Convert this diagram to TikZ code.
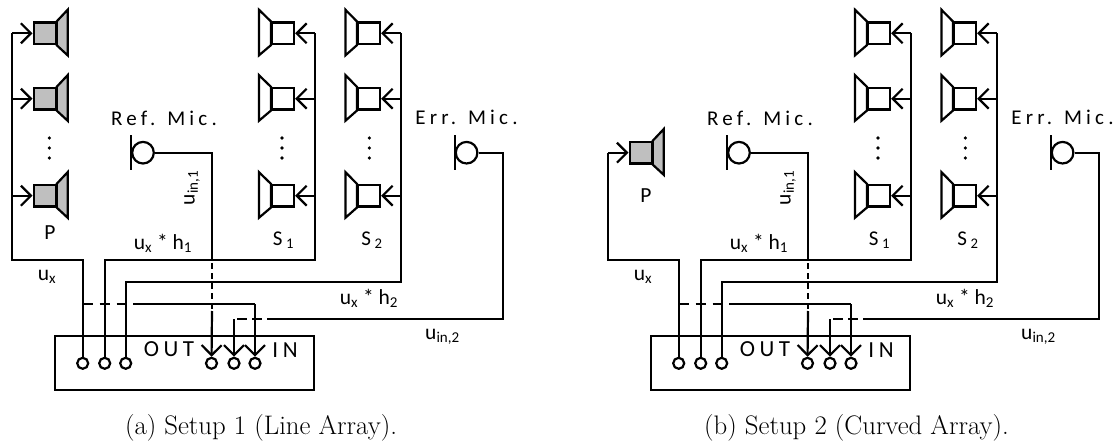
\documentclass[tikz,border=0pt]{standalone}
\usepackage{fontspec}
\setmainfont{Latin Modern Roman}
\newfontfamily\labelfont{Carlito}
\newfontfamily\spacedfont[LetterSpace=20]{Carlito}
\usetikzlibrary{arrows.meta, positioning}

\definecolor{spkgray}{gray}{0.75}
\tikzset{
    wire/.style={line width=2.2pt, line join=miter},
    sig/.style={wire, -{Straight Barb[length=10pt, width=20pt, line width=2.2pt]}},
    spkbox/.style={draw, line width=2.2pt, rectangle, inner sep=0pt, minimum width=22pt, minimum height=21.6pt},
    port/.style={draw, line width=2.2pt, circle, inner sep=0pt, minimum size=11pt},
    mic/.style={draw, line width=2.2pt, circle, inner sep=0pt, minimum size=21.6pt},
    lab/.style={font=\fontsize{21.5}{22}\labelfont, inner sep=0pt},
    spaced/.style={font=\fontsize{21}{21}\spacedfont, inner sep=0pt},
    iolab/.style={font=\fontsize{23}{23}\spacedfont, inner sep=0pt},
    capt/.style={font=\fontsize{26.8}{28}\selectfont, inner sep=0pt},
    dotnode/.style={fill, circle, inner sep=0pt, minimum size=3.6pt}
}

\begin{document}
\begin{tikzpicture}[x=1pt, y=-1pt]
    \useasboundingbox (0,0) rectangle (1114,441);

    \foreach \pre/\dx/\ylist/\ply in {
        a/0/{33.3,98.7,195.7}/233,
        b/596/{152.7}/196} {
    \begin{scope}[xshift=\dx pt, name prefix=\pre-]
        % device box and ports
        \node[draw, line width=2.2pt, inner sep=0pt, minimum width=259pt, minimum height=54pt] (dev) at (184.5,363) {};
        \foreach \n/\x in {1/82.7, 2/104.7, 3/125.7}
            \node[port] (o\n) at (\x,363.3) {};
        \foreach \n/\x in {1/211.5, 2/234, 3/255}
            \node[port] (i\n) at (\x,363.3) {};
        \node[iolab] (outlab) at (169,349) {OUT};
        \node[iolab] (inlab) at (285,350) {IN};

        % primary speakers
        \coordinate (ubend) at (82.7,260.3);
        \foreach \y [count=\i] in \ylist {
            \node[spkbox, fill=spkgray] (P\i) at (44.6,\y) {};
            \draw[wire, fill=spkgray] (P\i.north east) -- ++(11,-11.7) -- ++(0,45.7) -- (P\i.south east) -- cycle;
            \coordinate (pbus\i) at (12,\y);
            \draw[wire] (pbus\i) |- (ubend) -- (o1);
            \draw[sig] (pbus\i) -- (P\i);
        }
        \node[lab] (plab) at (50,\ply) {P};

        % secondary speakers
        \coordinate (bend1) at (104.7,260.3);
        \coordinate (bend2) at (125.7,282);
        \foreach \y [count=\i] in {33.3, 98.7, 195.7} {
            \node[spkbox] (Sa\i) at (283,\y) {};
            \draw[wire] (Sa\i.north west) -- ++(-12,-11.7) -- ++(0,45.7) -- (Sa\i.south west) -- cycle;
            \coordinate (sabus\i) at (314.7,\y);
            \draw[wire] (o2) -- (bend1) -| (sabus\i);
            \draw[sig] (sabus\i) -- (Sa\i);

            \node[spkbox] (Sb\i) at (369,\y) {};
            \draw[wire] (Sb\i.north west) -- ++(-11.5,-11.7) -- ++(0,45.7) -- (Sb\i.south west) -- cycle;
            \coordinate (sbbus\i) at (400.7,\y);
            \draw[wire] (o3) -- (bend2) -| (sbbus\i);
            \draw[sig] (sbbus\i) -- (Sb\i);
        }
        \foreach \x/\nm in {282/sad, 369.3/sbd}
            \foreach \y [count=\i] in {138, 148, 158}
                \node[dotnode] (\nm\i) at (\x,\y) {};

        % reference mic
        \node[mic] (rmic) at (143,152.7) {};
        \draw[wire] (rmic.west) ++(0,-17.4) -- ++(0,34.8);
        \coordinate (rbend) at (212,152.7);
        \coordinate (rdash) at (212,253);
        \coordinate (rsolid) at (212,311);
        \draw[wire] (rmic) -- (rbend) -- (rdash);
        \draw[wire, dash pattern=on 6pt off 4pt] (rdash) -- (rsolid);
        \draw[sig] (rsolid) -- (i1);

        % error mic
        \node[mic] (emic) at (466.6,152.7) {};
        \draw[wire] (emic.west) ++(0,-17.4) -- ++(0,34.8);
        \coordinate (ebend) at (503.3,152.7);
        \coordinate (ecorner) at (503.3,319.3);
        \coordinate (esolid) at (276.7,319.3);
        \coordinate (edash) at (234,319.3);
        \draw[wire] (emic) -- (ebend) -- (ecorner) -- (esolid);
        \draw[wire, dash pattern=on 10pt off 5pt] (esolid) -- (edash);
        \draw[sig] (edash) -- (i2);

        % u_x tap to input 3
        \coordinate (tap) at (82.7,304);
        \coordinate (tapsolid) at (133,304);
        \coordinate (tapend) at (255,304);
        \draw[wire, dash pattern=on 10pt off 7pt] (tap) -- (tapsolid);
        \draw[wire] (tapsolid) -- (tapend);
        \draw[sig] (tapend) -- (i3);

        % labels
        \node[spaced] (rlab) at (164,118) {Ref. Mic.};
        \node[spaced] (elab) at (466.5,117) {Err. Mic.};
        \node[spaced] (s1lab) at (283.5,240) {S\,\textsubscript{1}};
        \node[spaced] (s2lab) at (372,240) {S\,\textsubscript{2}};
        \node[lab] (uxlab) at (47,277) {u\textsubscript{x}};
        \node[lab] (h1lab) at (163,243) {u\textsubscript{x} * h\textsubscript{1}};
        \node[lab] (h2lab) at (369,298) {u\textsubscript{x} * h\textsubscript{2}};
        \node[lab] (in2lab) at (442.5,337) {u\textsubscript{in,2}};
        \node[lab, rotate=90] (in1lab) at (192,188) {u\textsubscript{in,1}};
    \end{scope}
    }

    % primary dots, left setup only
    \foreach \y [count=\i] in {138, 148, 158}
        \node[dotnode] (pd\i) at (49.3,\y) {};

    % captions
    \node[capt] (capa) at (261,428) {(a) Setup 1 (Line Array).};
    \node[capt] (capb) at (856.5,428) {(b) Setup 2 (Curved Array).};
\end{tikzpicture}
\end{document}
